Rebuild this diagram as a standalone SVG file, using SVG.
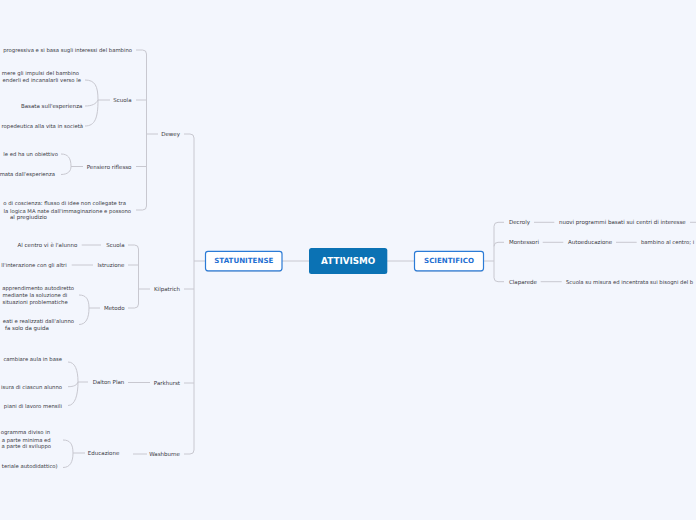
<svg xmlns="http://www.w3.org/2000/svg" width="696" height="520" viewBox="0 0 696 520">
<style>
.t{font-family:"DejaVu Sans",Verdana,sans-serif;font-size:5.5px;fill:#383842}
.s{font-size:5.3px}
.e{text-anchor:end}
.c{fill:none;stroke:#c8c8d0;stroke-width:1}
.h{font-family:"DejaVu Sans",Verdana,sans-serif;font-weight:bold;text-anchor:middle}
</style>
<rect width="696" height="520" fill="#f3f6fd"/>
<g id="connectors" class="c">
<path d="M282,261 L309,261 M387,261 L414,261"/>
<path d="M205,261 L194,261 M184,134 L190,134 Q194,134 194,138 L194,450 Q194,454 190,454 L184,454 M184,289 L194,289 M184,383 L194,383"/>
<path d="M158,134 L146.5,134 M136,50 L142.5,50 Q146.5,50 146.5,54 L146.5,206 Q146.5,210 142.5,210 L136,210 M136,100 L146.5,100 M136,166.5 L146.5,166.5"/>
<path d="M110,100 L98,100 M85,80 C95,80 98,86 98,100 M85,126 C95,126 98,118 98,100 M85,106 C92,106 96,104 98,100"/>
<path d="M83,166.5 L71,166.5 M61,154 C68,154 71,158 71,166.5 M61,174.5 C68,174.5 71,171 71,166.5"/>
<path d="M150,289 L138.5,289 M128,245 L134.5,245 Q138.5,245 138.5,249 L138.5,304 Q138.5,308 134.5,308 L128,308 M128,265 L138.5,265"/>
<path d="M81.7,245 L101,245 M71.7,265 L93,265"/>
<path d="M100,308 L89,308 M79,295 C86,295 89,299 89,308 M79,324.5 C86,324.5 89,318 89,308"/>
<path d="M128,382.5 L150,382.5"/>
<path d="M88,382 L78,382 M68,362 C75,362 78,370 78,382 M68,405.5 C75,405.5 78,395 78,382 M68,386.7 C74,386.7 77,385 78,382"/>
<path d="M133,454 L147,454"/>
<path d="M85,453 L73,453 M63,440 C70,440 73,444 73,453 M63,467.5 C70,467.5 73,462 73,453"/>
<path d="M483.7,261 L494,261 M504,222.3 L498,222.3 Q494,222.3 494,226.3 L494,277.7 Q494,281.7 498,281.7 L504,281.7 M494,246.3 Q494,242.3 498,242.3 L504,242.3"/>
<path d="M534,222.3 L554.3,222.3 M690,222.3 L696,222.3 M542.7,242.3 L563.3,242.3 M616,242.3 L636.7,242.3 M540.7,281.7 L561.7,281.7"/>
</g>
<g id="attivismo">
<rect x="309" y="248" width="78.3" height="26" rx="2.5" fill="#0b72b4"/>
<text class="h" x="348.2" y="264.3" font-size="8.8" fill="#ffffff">ATTIVISMO</text>
</g>
<g id="statunitense">
<rect x="205.5" y="252.5" width="76.5" height="19.5" rx="2.5" fill="#000" opacity="0.1"/>
<rect x="205.5" y="251.3" width="76.5" height="19.5" rx="2.5" fill="#ffffff" stroke="#2b7bd6" stroke-width="1.2"/>
<text class="h" x="243.8" y="263.4" font-size="7.1" fill="#1f6fd2">STATUNITENSE</text>
</g>
<g id="scientifico">
<rect x="414.5" y="252.5" width="69" height="19.5" rx="2.5" fill="#000" opacity="0.1"/>
<rect x="414.5" y="251.3" width="69" height="19.5" rx="2.5" fill="#ffffff" stroke="#2b7bd6" stroke-width="1.2"/>
<text class="h" x="449" y="263.4" font-size="7.1" fill="#1f6fd2">SCIENTIFICO</text>
</g>
<g id="dewey"><text class="t e" x="180" y="136">Dewey</text></g>
<g id="dewey-1"><text class="t e s" x="132" y="52">progressiva e si basa sugli interessi del bambino</text></g>
<g id="dewey-scuola"><text class="t e" x="131.5" y="102">Scuola</text></g>
<g id="scuola-1"><text class="t e s" x="79" y="75">mere gli impulsi del bambino</text><text class="t e s" x="81" y="82">enderli ed incanalarli verso le</text></g>
<g id="scuola-2"><text class="t e" x="82.5" y="107.5">Basata sull'esperienza</text></g>
<g id="scuola-3"><text class="t e s" x="83" y="128">ropedeutica alla vita in società</text></g>
<g id="pensiero"><text class="t e" x="131.5" y="168.5">Pensiero riflesso</text></g>
<g id="pensiero-1"><text class="t e s" x="58" y="156">le ed ha un obiettivo</text></g>
<g id="pensiero-2"><text class="t e s" x="55" y="176.3">mata dall'esperienza</text></g>
<g id="dewey-4"><text class="t e s" x="126" y="205.3">o di coscienza: flusso di idee non collegate tra</text><text class="t e s" x="131" y="212.6">la logica MA nate dall'immaginazione e possono</text><text class="t" x="10" y="219.3">al pregiudizio</text></g>
<g id="kilpatrich"><text class="t e" x="180" y="291">Kilpatrich</text></g>
<g id="k-scuola"><text class="t e" x="124.5" y="247">Scuola</text></g>
<g id="k-scuola-1"><text class="t e" x="77.3" y="247">Al centro vi è l'alunno</text></g>
<g id="k-istruzione"><text class="t e" x="124.5" y="267">Istruzione</text></g>
<g id="k-istruzione-1"><text class="t e s" x="66.7" y="267">ll'interazione con gli altri</text></g>
<g id="k-metodo"><text class="t e" x="124.5" y="310">Metodo</text></g>
<g id="k-metodo-1"><text class="t e s" x="74" y="289.7">apprendimento autodiretto</text><text class="t e s" x="67.3" y="297">mediante la soluzione di</text><text class="t e s" x="67.7" y="303.6">situazioni problematiche</text></g>
<g id="k-metodo-2"><text class="t e s" x="74" y="323">eati e realizzati dall'alunno</text><text class="t" x="5" y="330.2">fa solo da guida</text></g>
<g id="parkhurst"><text class="t e" x="180" y="384.7">Parkhurst</text></g>
<g id="dalton"><text class="t e" x="124.3" y="383.8">Dalton Plan</text></g>
<g id="dalton-1"><text class="t e s" x="62" y="361">cambiare aula in base</text></g>
<g id="dalton-2"><text class="t e s" x="62" y="388.7">isura di ciascun alunno</text></g>
<g id="dalton-3"><text class="t e s" x="62" y="407.6">piani di lavoro mensili</text></g>
<g id="washburne"><text class="t e" x="180" y="456">Washburne</text></g>
<g id="educazione"><text class="t e" x="119.3" y="455">Educazione</text></g>
<g id="educazione-1"><text class="t e s" x="50" y="433.7">ogramma diviso in</text><text class="t e s" x="50.7" y="441.7">a parte minima ed</text><text class="t e s" x="51" y="447.7">a parte di sviluppo</text></g>
<g id="educazione-2"><text class="t e s" x="57.7" y="468.2">teriale autodidattico)</text></g>
<g id="decroly"><text class="t" x="509" y="224.2">Decroly</text></g>
<g id="decroly-1"><text class="t" x="559" y="224.2">nuovi programmi basati sui centri di interesse</text></g>
<g id="montessori"><text class="t" x="509" y="244.2">Montessori</text></g>
<g id="autoeducazione"><text class="t" x="568" y="244.2">Autoeducazione</text></g>
<g id="autoeducazione-1"><text class="t s" x="641" y="244.2">bambino al centro; i</text></g>
<g id="claparede"><text class="t" x="509" y="283.6">Claparede</text></g>
<g id="claparede-1"><text class="t s" x="566" y="283.6">Scuola su misura ed incentrata sui bisogni del b</text></g>
</svg>
